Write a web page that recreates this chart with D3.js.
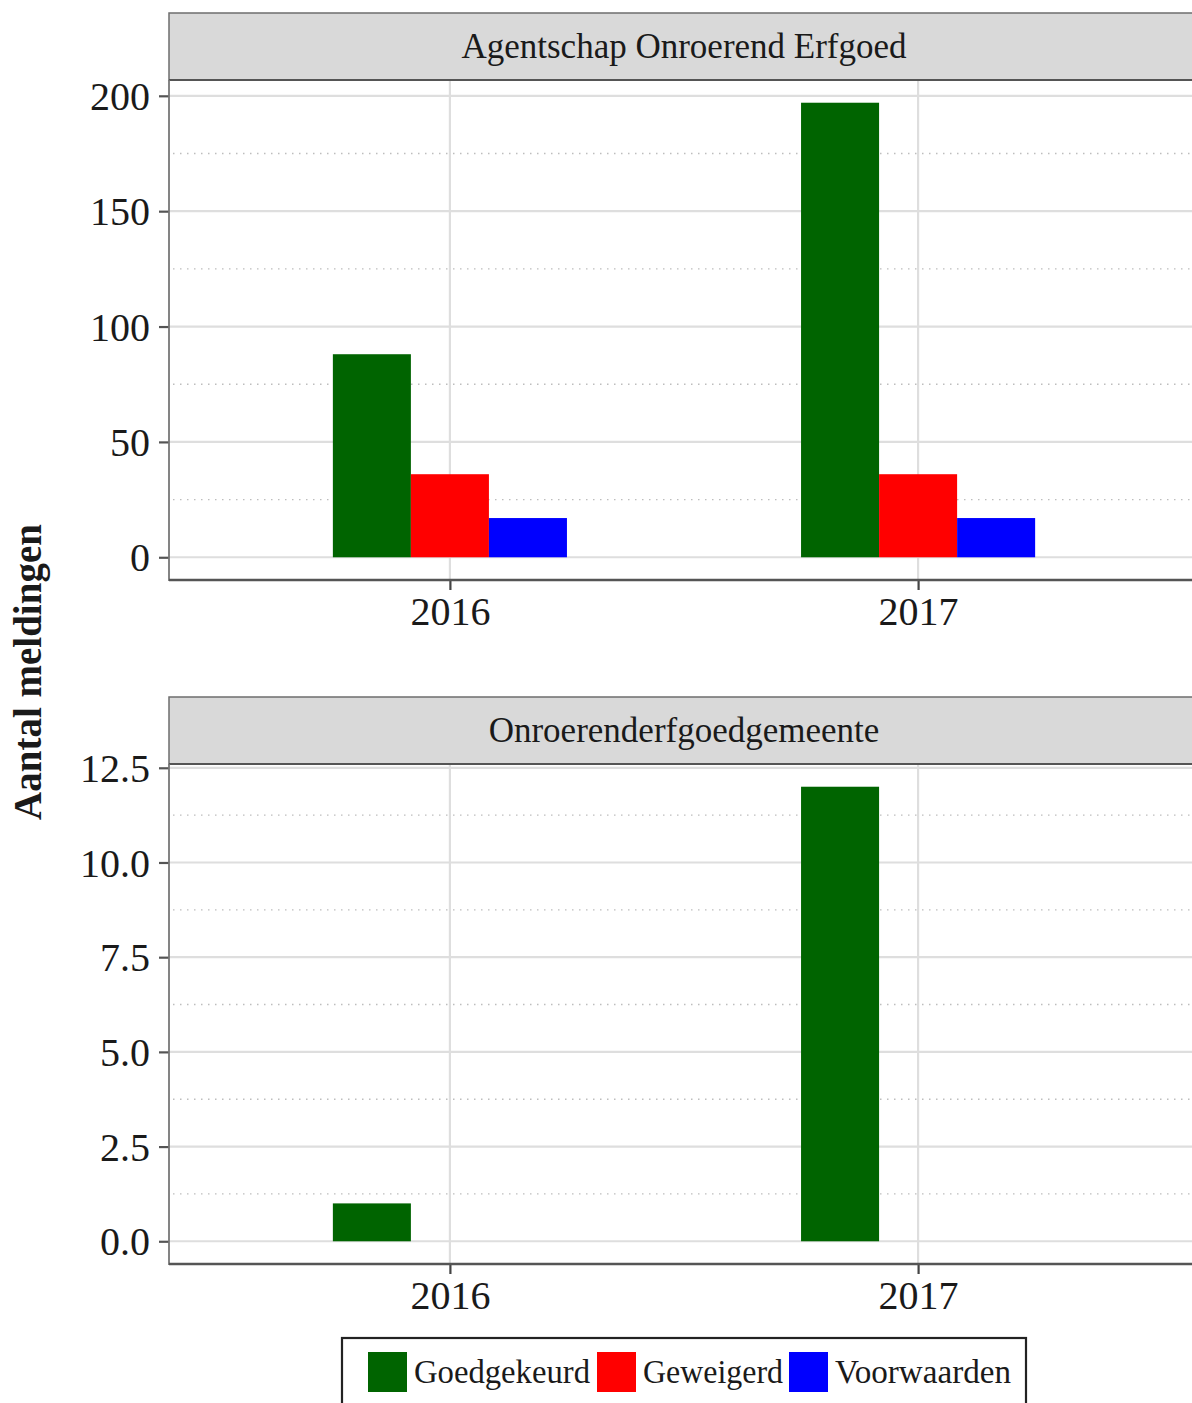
<!DOCTYPE html>
<html><head><meta charset="utf-8">
<script src="https://cdn.jsdelivr.net/npm/d3@7"></script>
<style>body{margin:0;background:#fff}svg{display:block}text{font-family:"Liberation Serif","DejaVu Serif",serif;fill:#1a1a1a}</style>
</head><body>
<script>
const years = ["2016", "2017"];
const series = ["Goedgekeurd", "Geweigerd", "Voorwaarden"];
const colors = ["#006400", "#ff0000", "#0000ff"];
const panelTitles = ["Agentschap Onroerend Erfgoed", "Onroerenderfgoedgemeente"];
const aoeGoedgekeurd = [88, 197];
const aoeGeweigerd = [36, 36];
const aoeVoorwaarden = [17, 17];
const oegGoedgekeurd = [1, 12];
const oegGeweigerd = [0, 0];
const oegVoorwaarden = [0, 0];
const yTicksTop = [0, 50, 100, 150, 200];
const yTicksBottom = [0, 2.5, 5, 7.5, 10, 12.5];

const W = 1192, H = 1403;
const svg = d3.select("body").append("svg").attr("width", W).attr("height", H);

const panels = [
  {title: panelTitles[0], vals: [aoeGoedgekeurd, aoeGeweigerd, aoeVoorwaarden], ticks: yTicksTop, fmt: d3.format("d"), stripTop: 13, top: 80, bottom: 580},
  {title: panelTitles[1], vals: [oegGoedgekeurd, oegGeweigerd, oegVoorwaarden], ticks: yTicksBottom, fmt: d3.format(".1f"), stripTop: 697, top: 764, bottom: 1264}
];
const left = 169, right = 1199;

const x = d3.scalePoint().domain(years).range([left, right]).padding(0.6);
const step = x.step();
const xs = d3.scaleBand().domain(series).range([-0.25 * step, 0.25 * step]);

panels.forEach(p => {
  const maxV = d3.max(p.vals.flat());
  const pad = maxV * 0.05;
  const y = d3.scaleLinear().domain([-pad, maxV + pad]).range([p.bottom, p.top]);
  const g = svg.append("g");
  const majors = p.ticks;
  const tstep = majors[1] - majors[0];
  const minors = [];
  for (let i = 0; i < majors.length; i++) {
    const m = majors[i] + tstep / 2;
    if (m < y.domain()[1]) minors.push(m);
  }
  g.selectAll(".minor").data(minors).join("line")
    .attr("x1", left + 4).attr("x2", W).attr("y1", d => y(d)).attr("y2", d => y(d))
    .attr("stroke", "#bdbdbd").attr("stroke-width", 1.4).attr("stroke-dasharray", "1.5,5.5");
  g.selectAll(".major").data(majors).join("line")
    .attr("x1", left).attr("x2", W).attr("y1", d => y(d)).attr("y2", d => y(d))
    .attr("stroke", "#dedede").attr("stroke-width", 2.2);
  g.selectAll(".vgrid").data(years).join("line")
    .attr("x1", d => x(d)).attr("x2", d => x(d)).attr("y1", p.top).attr("y2", p.bottom)
    .attr("stroke", "#dedede").attr("stroke-width", 2.2);
  series.forEach((s, si) => {
    g.selectAll(".bar" + si).data(years.map((yr, yi) => ({yr, v: p.vals[si][yi]})).filter(d => d.v > 0)).join("rect")
      .attr("x", d => x(d.yr) + xs(s)).attr("width", xs.bandwidth())
      .attr("y", d => y(d.v)).attr("height", d => y(0) - y(d.v))
      .attr("fill", colors[si]);
  });
  g.append("rect").attr("x", left).attr("y", p.stripTop).attr("width", right - left).attr("height", p.top - p.stripTop)
    .attr("fill", "#d9d9d9").attr("stroke", "#6e6e6e").attr("stroke-width", 1.5);
  g.append("line").attr("x1", left).attr("x2", W).attr("y1", p.top).attr("y2", p.top)
    .attr("stroke", "#555").attr("stroke-width", 2.2);
  g.append("text").attr("x", (left + right) / 2).attr("y", (p.stripTop + p.top) / 2 + 11)
    .attr("text-anchor", "middle").attr("font-size", 35).text(p.title);
  const ya = d3.axisLeft(y).tickValues(p.ticks).tickFormat(p.fmt).tickSize(10).tickPadding(9);
  const yg = g.append("g").attr("transform", `translate(${left},0)`).call(ya);
  yg.select(".domain").remove();
  yg.selectAll(".tick line").attr("stroke", "#555").attr("stroke-width", 2.2);
  yg.selectAll(".tick text").attr("font-size", 40).attr("font-family", "Liberation Serif").attr("fill", "#1a1a1a").attr("dy", "0.34em");
  g.append("line").attr("x1", left).attr("x2", left).attr("y1", p.top).attr("y2", p.bottom + 1)
    .attr("stroke", "#777").attr("stroke-width", 1.8);
  const xa = d3.axisBottom(x).tickSize(10).tickPadding(7);
  const xg = g.append("g").attr("transform", `translate(0,${p.bottom})`).call(xa);
  xg.select(".domain").remove();
  xg.selectAll(".tick line").attr("stroke", "#444").attr("stroke-width", 2.2);
  xg.selectAll(".tick text").attr("font-size", 40).attr("font-family", "Liberation Serif").attr("fill", "#1a1a1a");
  g.append("line").attr("x1", left).attr("x2", W).attr("y1", p.bottom).attr("y2", p.bottom)
    .attr("stroke", "#555").attr("stroke-width", 2.5);
});

svg.append("text").attr("transform", "translate(41,672) rotate(-90)")
  .attr("text-anchor", "middle").attr("font-size", 39).attr("font-weight", "bold").text("Aantal meldingen");

const lg = svg.append("g");
lg.append("rect").attr("x", 342).attr("y", 1338).attr("width", 684).attr("height", 80)
  .attr("fill", "#fff").attr("stroke", "#222").attr("stroke-width", 2.2);
const keyX = [368, 597, 789];
const textW = [176, 140, 176];
series.forEach((s, i) => {
  lg.append("rect").attr("x", keyX[i]).attr("y", 1352).attr("width", 39).attr("height", 40).attr("fill", colors[i]);
  lg.append("text").attr("x", keyX[i] + 46).attr("y", 1383).attr("font-size", 33)
    .attr("textLength", textW[i]).attr("lengthAdjust", "spacingAndGlyphs").text(s);
});
</script>
</body></html>
